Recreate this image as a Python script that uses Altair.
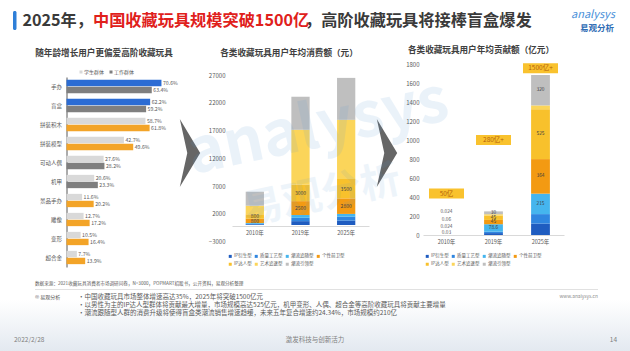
import altair as alt
import pandas as pd

FONT = "Noto Sans CJK SC"
W, H = 630, 351

# ---------------- data ----------------
left_cats = ["手办", "盲盒", "拼装积木", "拼装模型", "可动人偶", "机甲", "景品手办", "雕像", "变形", "超合金"]
student_pct = [70.6, 62.2, 58.7, 42.7, 27.6, 20.6, 11.6, 12.7, 10.5, 7.7]
worker_pct = [63.4, 59.2, 61.8, 49.6, 28.2, 23.3, 20.2, 17.2, 16.4, 13.9]
student_tone = ["blue", "blue", "light", "light", "light", "light", "light", "light", "light", "light"]
worker_tone = ["gray", "gray", "orange", "orange", "gray", "gray", "orange", "orange", "orange", "orange"]
series_names = ["学生群体", "工作群体"]
tone_domain = ["blue", "gray", "light", "orange"]
tone_colors = ["#2b6cd4", "#7f7f7f", "#d9d9d9", "#f3a428"]

types = ["IP衍生型", "质量工艺型", "潮流追随型", "个性前卫型", "IP达人型", "艺术追逐型", "潮流引领型"]
type_colors = ["#1f5cc0", "#2f86e0", "#45b5ee", "#f39a12", "#f8c12c", "#fbd55a", "#bfbfbf"]
years = ["2010年", "2019年", "2025年"]

spend_2010 = [150, 100, 100, 800, 800, 1500, 2550]
spend_2019 = [700, 600, 500, 2500, 3000, 9840, 5950]
spend_2025 = [800, 700, 500, 2800, 3500, 10630, 7550]
spend_labelled = ["个性前卫型", "IP达人型"]

contrib_2010 = [0, 0, 0.03, 0.024, 0.06, 0, 0.024]
contrib_2019 = [20, 15, 78.6, 45, 45, 15, 30]
contrib_2025 = [120, 100, 215, 364, 525, 40, 320]
contrib_labelled = ["潮流追随型", "个性前卫型", "IP达人型", "潮流引领型"]

ann_years = ["2010年", "2019年", "2025年"]
ann_text = ["50亿", "280亿+", "1500亿+"]
ann_value = [436, 1000, 1755]

title_parts = ["2025年，", "中国收藏玩具规模突破1500亿", "，高阶收藏玩具将接棒盲盒爆发"]
panel_titles = ["随年龄增长用户更偏爱高阶收藏玩具", "各类收藏玩具用户年均消费额（元）", "各类收藏玩具用户年均贡献额（亿元）"]
source_text = "数据来源：2021收藏玩具消费者市场调研问卷，N=3000，POPMART招股书，公开资料，易观分析整理"
bullets = [
    "•中国收藏玩具市场整体增速高达35%，2025年将突破1500亿元",
    "•以男性为主的IP达人型群体将贡献最大增量，市场规模高达525亿元，机甲变形、人偶、超合金等高阶收藏玩具将贡献主要增量",
    "•潮流跟随型人群的消费升级将使得盲盒类潮流销售增速趋缓，未来五年复合增速约24.34%，市场规模约210亿",
]


# ---------------- helpers ----------------
def txt(s, x, y, size, color="#404040", weight="normal", align="left", **kw):
    return alt.Chart(pd.DataFrame({"t": [s]})).mark_text(
        align=align, baseline="middle", fontSize=size, font=FONT, fontWeight=weight, color=color, **kw
    ).encode(x=alt.value(x), y=alt.value(y), text="t:N")


def stacked_df(vals_by_year):
    rows = []
    for yr, vals in zip(years, vals_by_year):
        for i, (t, v) in enumerate(zip(types, vals)):
            rows.append(dict(year=yr, type=t, idx=i, v=v, lab=f"{v:g}"))
    return pd.DataFrame(rows)


def type_legend(x, y):
    return alt.Legend(title=None, orient="none", legendX=x, legendY=y,
                      direction="horizontal", columns=4, labelFontSize=4.5,
                      labelFont=FONT, labelColor="#595959", symbolType="square",
                      symbolSize=9, symbolStrokeWidth=0, columnPadding=2,
                      rowPadding=3, padding=0, labelOffset=1.5)


# ---------------- background & decorations ----------------
bg = alt.Chart(pd.DataFrame({"a": [0]})).mark_rect(
    color=alt.Gradient(gradient="linear", x1=0, x2=0, y1=0, y2=1,
                       stops=[alt.GradientStop(color="#ffffff", offset=0),
                              alt.GradientStop(color="#e3e9f0", offset=1)])
).encode(x=alt.value(0), x2=alt.value(W), y=alt.value(300), y2=alt.value(H))

blue_bar = alt.Chart(pd.DataFrame({"a": [0]})).mark_rect(color="#2f7fd8", cornerRadius=1.5).encode(
    x=alt.value(13), x2=alt.value(16.5), y=alt.value(11), y2=alt.value(30))

chev_path = "M-0.3,-1 L0.3,0 L-0.3,1 L-0.08,0 Z"
chev1 = alt.Chart(pd.DataFrame({"a": [0]})).mark_point(shape=chev_path, filled=True, size=4624, color="#666666", opacity=1).encode(
    x=alt.value(190), y=alt.value(153))
chev2 = alt.Chart(pd.DataFrame({"a": [0]})).mark_point(shape=chev_path, filled=True, size=4624, color="#666666", opacity=1).encode(
    x=alt.value(387), y=alt.value(153))

# ---------------- left panel ----------------
left_df = pd.DataFrame({
    "cat": left_cats * 2,
    "series": [series_names[0]] * len(left_cats) + [series_names[1]] * len(left_cats),
    "v": student_pct + worker_pct,
    "tone": student_tone + worker_tone,
})
left_df["lab"] = left_df["v"].map(lambda v: f"{v:.1f}%")

lbase = alt.Chart(left_df).encode(
    y=alt.Y("cat:N", sort=left_cats,
            scale=alt.Scale(range=[77, 267], paddingInner=0.3, paddingOuter=0.15),
            axis=alt.Axis(title=None, orient="left", offset=-66.5, labelPadding=5, ticks=False,
                          domainColor="#595959", labelFontSize=5.5, labelColor="#595959",
                          labelFont=FONT, grid=False)),
    yOffset=alt.YOffset("series:N", sort=series_names, scale=alt.Scale(paddingInner=0.08)),
    x=alt.X("v:Q", scale=alt.Scale(domain=[0, 100], range=[66.5, 201]), axis=None),
)
lbars = lbase.mark_bar().encode(
    color=alt.Color("tone:N", scale=alt.Scale(domain=tone_domain, range=tone_colors), legend=None))
ltext = lbase.mark_text(align="left", baseline="middle", dx=1.5, fontSize=5.2, font=FONT, color="#595959").encode(
    text="lab:N")
left_panel = alt.layer(lbars, ltext)

left_legend = alt.layer(
    alt.Chart(pd.DataFrame({"a": [0]})).mark_square(size=9, color="#d9d9d9", opacity=1).encode(x=alt.value(81), y=alt.value(72)),
    txt(series_names[0], 84, 72, 5, "#595959"),
    alt.Chart(pd.DataFrame({"a": [0]})).mark_square(size=9, color="#7f7f7f", opacity=1).encode(x=alt.value(111), y=alt.value(72)),
    txt(series_names[1], 114, 72, 5, "#595959"),
)

# ---------------- middle panel ----------------
mid_df = stacked_df([spend_2010, spend_2019, spend_2025])


def mid_x():
    return alt.X("year:N", sort=years,
                 scale=alt.Scale(range=[232, 369], paddingInner=0.6, paddingOuter=0.3),
                 axis=alt.Axis(title=None, orient="bottom", offset=226 - H, ticks=False,
                               domainColor="#d9d9d9", labelFontSize=5.5, labelColor="#595959",
                               labelFont=FONT, labelPadding=4, labelAngle=0))


def mid_y(field):
    return alt.Y(field, scale=alt.Scale(domain=[-3000, 27000], range=[241.7, 75], nice=False, zero=False),
                 axis=alt.Axis(title=None, orient="left", offset=-229,
                               values=[-3000, 2000, 7000, 12000, 17000, 22000, 27000], format="d",
                               ticks=False, domain=False, grid=False, labelFontSize=6,
                               labelColor="#595959", labelFont=FONT, labelPadding=4))


mbase = alt.Chart(mid_df).transform_stack(
    stack="v", groupby=["year"], sort=[alt.SortField("idx", order="ascending")], as_=["y0", "y1"]
).transform_calculate(mid="(datum.y0 + datum.y1) / 2")

mbars = mbase.mark_bar().encode(
    x=mid_x(), y=mid_y("y0:Q"), y2="y1:Q",
    color=alt.Color("type:N", scale=alt.Scale(domain=types, range=type_colors), legend=type_legend(228, 254)),
)
mtext = mbase.transform_filter(alt.FieldOneOfPredicate(field="type", oneOf=spend_labelled)).mark_text(
    fontSize=5, font=FONT, color="#404040").encode(x=mid_x(), y=mid_y("mid:Q"), text="lab:N")
mid_panel = alt.layer(mbars, mtext)

# ---------------- right panel ----------------
right_df = stacked_df([contrib_2010, contrib_2019, contrib_2025])


def right_x():
    return alt.X("year:N", sort=years,
                 scale=alt.Scale(range=[423, 564], paddingInner=0.6, paddingOuter=0.3),
                 axis=alt.Axis(title=None, orient="bottom", offset=235 - H, ticks=False,
                               domainColor="#d9d9d9", labelFontSize=5.5, labelColor="#595959",
                               labelFont=FONT, labelPadding=4, labelAngle=0))


def right_y(field):
    return alt.Y(field, scale=alt.Scale(domain=[0, 1800], range=[235, 64], nice=False),
                 axis=alt.Axis(title=None, orient="left", offset=-423,
                               values=list(range(0, 1801, 200)), format="d",
                               ticks=False, domain=False, grid=False, labelFontSize=6,
                               labelColor="#595959", labelFont=FONT, labelPadding=4))


rbase = alt.Chart(right_df).transform_stack(
    stack="v", groupby=["year"], sort=[alt.SortField("idx", order="ascending")], as_=["y0", "y1"]
).transform_calculate(mid="(datum.y0 + datum.y1) / 2")

rbars = rbase.mark_bar().encode(
    x=right_x(), y=right_y("y0:Q"), y2="y1:Q",
    color=alt.Color("type:N", scale=alt.Scale(domain=types, range=type_colors), legend=type_legend(425, 254)),
)
rtext = rbase.transform_filter(alt.FieldOneOfPredicate(field="type", oneOf=contrib_labelled)).transform_filter(
    alt.datum.year != years[0]).mark_text(fontSize=4.8, font=FONT, color="#404040").encode(
    x=right_x(), y=right_y("mid:Q"), text="lab:N")

r2010_layers = []
for t, dy in zip(contrib_labelled, [-2, -7.5, -15, -22.5]):
    r2010_layers.append(
        rbase.transform_filter(alt.datum.year == years[0]).transform_filter(alt.datum.type == t).mark_text(
            fontSize=4.8, font=FONT, color="#595959", dy=dy).encode(x=right_x(), y=right_y("mid:Q"), text="lab:N"))

ann_df = pd.DataFrame({"year": ann_years, "t": ann_text, "pos": ann_value})
box_path = "M-1.75,-0.5 L1.75,-0.5 L1.75,0.5 L-1.75,0.5 Z"
abox = alt.Chart(ann_df).mark_point(shape=box_path, filled=True, size=400, color="#f9c22e", opacity=1).encode(
    x=right_x(), y=right_y("pos:Q"))
atext = alt.Chart(ann_df).mark_text(fontSize=6.5, font=FONT, color="#b5620c").encode(
    x=right_x(), y=right_y("pos:Q"), text="t:N")

right_panel = alt.layer(rbars, rtext, *r2010_layers, abox, atext)

# ---------------- watermark ----------------
wm1 = txt("analysys", 318, 128, 62, "#5b9bd5", "bold", "center", opacity=0.12, angle=348)
wm2 = txt("易观分析", 322, 196, 40, "#5b9bd5", "bold", "center", opacity=0.1, angle=348)

# ---------------- titles & footer ----------------
X1 = 93
X2 = X1 + 212
t1 = txt(title_parts[0], X1, 21, 16.2, "#3a3a3a", "bold", "right")
t2 = txt(title_parts[1], X1, 21, 16.2, "#e0201b", "bold", "left")
t3 = txt(title_parts[2], X2, 21, 16.2, "#3a3a3a", "bold", "left")
logo1 = txt("analysys", 593, 15, 11, "#4a90d9", "normal", "center", fontStyle="italic")
logo2 = txt("易观分析", 597, 28, 8.5, "#2f6db5", "bold", "center")

pt1 = txt(panel_titles[0], 104, 53, 8.6, "#404040", "bold", "center")
pt2 = txt(panel_titles[1], 289, 53, 8.6, "#404040", "bold", "center")
pt3 = txt(panel_titles[2], 481, 50, 8.6, "#404040", "bold", "center")

src = txt(source_text, 35, 284, 4.6, "#595959")
rule = alt.Chart(pd.DataFrame({"a": [0]})).mark_rule(color="#d9d9d9", strokeWidth=0.8).encode(
    x=alt.value(35), x2=alt.value(598), y=alt.value(289.5))
copy = txt("© 易观分析", 35, 297, 5, "#595959")
b_layers = [txt(b, 78, 297 + 8 * i, 6.5, "#595959") for i, b in enumerate(bullets)]
www = txt("www.analysys.cn", 598, 297, 4.8, "#8c8c8c", "normal", "right")
date = txt("2022/2/28", 14, 340, 6.5, "#7f7f7f")
slogan = txt("激发科技与创新活力", 315, 340, 6.5, "#7f7f7f", "normal", "center")
page = txt("14", 617, 340, 6.5, "#7f7f7f", "normal", "right")

layers = [bg, blue_bar, t1, t2, t3, logo1, logo2, pt1, pt2, pt3,
          left_legend, left_panel, mid_panel, right_panel, chev1, chev2, wm1, wm2,
          src, rule, copy, *b_layers, www, date, slogan, page]

chart = alt.layer(*layers).resolve_scale(
    x="independent", y="independent", color="independent"
).resolve_axis(x="independent", y="independent").resolve_legend(color="independent").properties(
    width=W, height=H, padding=0, autosize=alt.AutoSizeParams(type="none"), background="white"
).configure_view(stroke=None)

chart.save("out.html", embed_options={"renderer": "svg", "actions": False})
